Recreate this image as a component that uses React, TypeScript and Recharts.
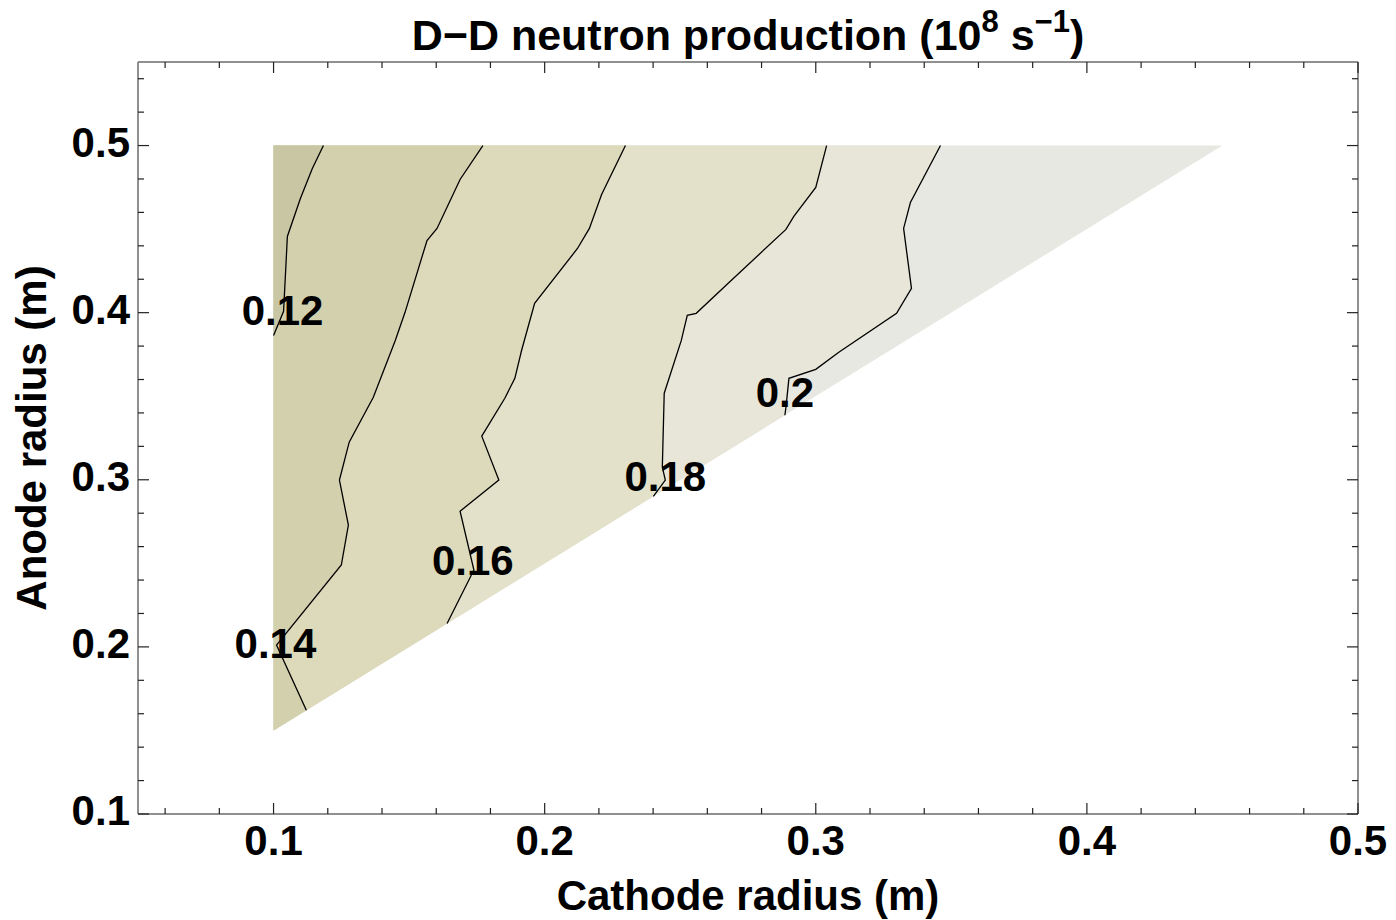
import { ComposedChart, XAxis, YAxis, Area, Line, ReferenceDot, Label } from 'recharts'

const FONT = '"Liberation Sans", Arial, Helvetica, sans-serif'
const FRAME = '#6b6b6b'
const TICK = '#222'

// cathode radius (m)
const X_DOMAIN: [number, number] = [0.05, 0.5]
const X_TICKS = [0.06, 0.08, 0.1, 0.12, 0.14, 0.16, 0.18, 0.2, 0.22, 0.24, 0.26, 0.28, 0.3, 0.32, 0.34, 0.36, 0.38, 0.4, 0.42, 0.44, 0.46, 0.48, 0.5]
const X_MAJOR = [0.1, 0.2, 0.3, 0.4, 0.5]

// anode radius (m)
const Y_DOMAIN: [number, number] = [0.1, 0.55]
const Y_TICKS = [0.1, 0.12, 0.14, 0.16, 0.18, 0.2, 0.22, 0.24, 0.26, 0.28, 0.3, 0.32, 0.34, 0.36, 0.38, 0.4, 0.42, 0.44, 0.46, 0.48, 0.5, 0.52, 0.54]
const Y_MAJOR = [0.1, 0.2, 0.3, 0.4, 0.5]

// sampled region: anode 0.15..0.5, cathode from 0.1 up to the diagonal
const REGION = [
  { y: 0.15, span: [0.1, 0.1] },
  { y: 0.5, span: [0.1, 0.45] },
]
const CORNER = { y: 0.15, span: [0.1, 0.1] }

// contour lines, from the lower end upward
const LINE_012 = [
  { x: 0.1, y: 0.3864 }, { x: 0.1037, y: 0.4008 }, { x: 0.1051, y: 0.4456 },
  { x: 0.1099, y: 0.4683 }, { x: 0.1143, y: 0.4863 }, { x: 0.1184, y: 0.5 },
]
const LINE_014 = [
  { x: 0.1121, y: 0.1621 }, { x: 0.1011, y: 0.2011 }, { x: 0.125, y: 0.249 },
  { x: 0.1276, y: 0.2729 }, { x: 0.1243, y: 0.2998 }, { x: 0.1279, y: 0.3225 },
  { x: 0.1368, y: 0.3494 }, { x: 0.1449, y: 0.3834 }, { x: 0.1485, y: 0.4002 },
  { x: 0.1566, y: 0.4432 }, { x: 0.1603, y: 0.4504 }, { x: 0.1688, y: 0.4797 },
  { x: 0.1772, y: 0.5 },
]
const LINE_016 = [
  { x: 0.164, y: 0.214 }, { x: 0.1739, y: 0.246 }, { x: 0.1688, y: 0.2812 },
  { x: 0.1831, y: 0.2998 }, { x: 0.1768, y: 0.3261 }, { x: 0.1853, y: 0.3488 },
  { x: 0.189, y: 0.3607 }, { x: 0.1915, y: 0.3775 }, { x: 0.1963, y: 0.4056 },
  { x: 0.2121, y: 0.4384 }, { x: 0.2165, y: 0.4504 }, { x: 0.221, y: 0.4707 },
  { x: 0.2298, y: 0.5 },
]
const LINE_018 = [
  { x: 0.2401, y: 0.2901 }, { x: 0.2445, y: 0.2998 }, { x: 0.2434, y: 0.3075 },
  { x: 0.2441, y: 0.3518 }, { x: 0.2504, y: 0.3834 }, { x: 0.2526, y: 0.3984 },
  { x: 0.2559, y: 0.3996 }, { x: 0.268, y: 0.4181 }, { x: 0.289, y: 0.4498 },
  { x: 0.2919, y: 0.4576 }, { x: 0.3, y: 0.4749 }, { x: 0.304, y: 0.5 },
]
const LINE_020 = [
  { x: 0.2886, y: 0.3386 }, { x: 0.289, y: 0.3434 }, { x: 0.2901, y: 0.3607 },
  { x: 0.3, y: 0.3661 }, { x: 0.3085, y: 0.3763 }, { x: 0.3298, y: 0.3996 },
  { x: 0.3353, y: 0.4145 }, { x: 0.3324, y: 0.4504 }, { x: 0.3349, y: 0.4659 },
  { x: 0.346, y: 0.5 },
]

const CONTOURS = [LINE_012, LINE_014, LINE_016, LINE_018, LINE_020]

// band shades, lowest level first; the last one fills beyond 0.2
const BAND_COLORS = ['#c9c6a3', '#d3d0ad', '#dcdaba', '#e3e1c9', '#e8e6d8', '#e8e8e2']

const CONTOUR_LABELS = [
  { x: 0.1033, y: 0.4014, text: '0.12' },
  { x: 0.1007, y: 0.2023, text: '0.14' },
  { x: 0.1735, y: 0.2519, text: '0.16' },
  { x: 0.2445, y: 0.3021, text: '0.18' },
  { x: 0.2886, y: 0.3524, text: '0.2' },
]

// area left of a contour line, closed along the left edge / diagonal
function leftOf(line: { x: number; y: number }[], fromCorner: boolean) {
  const pts = line.map((p) => ({ y: p.y, span: [0.1, p.x] }))
  return fromCorner ? [CORNER, ...pts] : pts
}

const textStyle = { fontFamily: FONT, fontWeight: 700, fontSize: 42, fill: '#000' }

function BottomTick(props: any) {
  const { x, y, payload } = props
  const major = X_MAJOR.includes(payload.value)
  return (
    <g>
      <line x1={x} x2={x} y1={y} y2={y - (major ? 11 : 6)} stroke={TICK} strokeWidth={1.2} />
      {major && (
        <text x={x} y={y + 41} textAnchor="middle" style={textStyle}>
          {String(payload.value)}
        </text>
      )}
    </g>
  )
}

function TopTick(props: any) {
  const { x, y, payload } = props
  const major = X_MAJOR.includes(payload.value)
  return <line x1={x} x2={x} y1={y} y2={y + (major ? 11 : 6)} stroke={TICK} strokeWidth={1.2} />
}

function LeftTick(props: any) {
  const { x, y, payload } = props
  const major = Y_MAJOR.includes(payload.value)
  return (
    <g>
      <line x1={x} x2={x + (major ? 11 : 6)} y1={y} y2={y} stroke={TICK} strokeWidth={1.2} />
      {major && (
        <text x={x - 8} y={y + 11} textAnchor="end" style={textStyle}>
          {String(payload.value)}
        </text>
      )}
    </g>
  )
}

function RightTick(props: any) {
  const { x, y, payload } = props
  const major = Y_MAJOR.includes(payload.value)
  return <line x1={x} x2={x - (major ? 11 : 6)} y1={y} y2={y} stroke={TICK} strokeWidth={1.2} />
}

export default function App() {
  const bands = [
    { data: REGION, color: BAND_COLORS[5] },
    { data: leftOf(LINE_020, true), color: BAND_COLORS[4] },
    { data: leftOf(LINE_018, true), color: BAND_COLORS[3] },
    { data: leftOf(LINE_016, true), color: BAND_COLORS[2] },
    { data: leftOf(LINE_014, true), color: BAND_COLORS[1] },
    { data: leftOf(LINE_012, false), color: BAND_COLORS[0] },
  ]

  return (
    <div style={{ position: 'absolute', left: 0, top: 0, width: 1396, height: 920, background: '#fff' }}>
      <ComposedChart
        width={1396}
        height={920}
        layout="vertical"
        margin={{ top: 0, right: 0, bottom: 0, left: 0 }}
      >
        <XAxis
          xAxisId="b"
          type="number"
          dataKey="x"
          orientation="bottom"
          domain={X_DOMAIN}
          ticks={X_TICKS}
          interval={0}
          allowDataOverflow
          height={106}
          tickSize={0}
          tickMargin={0}
          tickLine={false}
          axisLine={{ stroke: FRAME, strokeWidth: 1.5 }}
          tick={(p: any) => <BottomTick {...p} />}
        >
          <Label
            content={({ viewBox }: any) => (
              <text x={viewBox.x + viewBox.width / 2} y={910} textAnchor="middle" style={textStyle}>
                Cathode radius (m)
              </text>
            )}
          />
        </XAxis>
        <XAxis
          xAxisId="t"
          type="number"
          dataKey="x"
          orientation="top"
          domain={X_DOMAIN}
          ticks={X_TICKS}
          interval={0}
          allowDataOverflow
          height={62}
          tickSize={0}
          tickMargin={0}
          tickLine={false}
          axisLine={{ stroke: FRAME, strokeWidth: 1.5 }}
          tick={(p: any) => <TopTick {...p} />}
        >
          <Label
            content={({ viewBox }: any) => (
              <text x={viewBox.x + viewBox.width / 2} y={50} textAnchor="middle" style={{ ...textStyle, fontSize: 43 }}>
                D−D neutron production (10
                <tspan dy={-18} fontSize={31}>8</tspan>
                <tspan dy={18}> s</tspan>
                <tspan dy={-18} fontSize={31}>−1</tspan>
                <tspan dy={18}>)</tspan>
              </text>
            )}
          />
        </XAxis>
        <YAxis
          yAxisId="l"
          type="number"
          dataKey="y"
          orientation="left"
          reversed
          domain={Y_DOMAIN}
          ticks={Y_TICKS}
          interval={0}
          allowDataOverflow
          width={138}
          tickSize={0}
          tickMargin={0}
          tickLine={false}
          axisLine={{ stroke: FRAME, strokeWidth: 1.5 }}
          tick={(p: any) => <LeftTick {...p} />}
        >
          <Label
            content={({ viewBox }: any) => {
              const cy = viewBox.y + viewBox.height / 2
              return (
                <text x={46} y={cy} transform={`rotate(-90, 46, ${cy})`} textAnchor="middle" style={textStyle}>
                  Anode radius (m)
                </text>
              )
            }}
          />
        </YAxis>
        <YAxis
          yAxisId="r"
          type="number"
          dataKey="y"
          orientation="right"
          reversed
          domain={Y_DOMAIN}
          ticks={Y_TICKS}
          interval={0}
          allowDataOverflow
          width={38}
          tickSize={0}
          tickMargin={0}
          tickLine={false}
          axisLine={{ stroke: FRAME, strokeWidth: 1.5 }}
          tick={(p: any) => <RightTick {...p} />}
        />

        {bands.map((b, i) => (
          <Area
            key={`band-${i}`}
            xAxisId="b"
            yAxisId="l"
            data={b.data}
            dataKey="span"
            type="linear"
            stroke="none"
            fill={b.color}
            fillOpacity={1}
            dot={false}
            activeDot={false}
            isAnimationActive={false}
          />
        ))}

        {CONTOURS.map((c, i) => (
          <Line
            key={`contour-${i}`}
            xAxisId="b"
            yAxisId="l"
            data={c}
            dataKey="x"
            type="linear"
            stroke="#000"
            strokeWidth={1.3}
            dot={false}
            activeDot={false}
            isAnimationActive={false}
          />
        ))}

        {CONTOUR_LABELS.map((l) => (
          <ReferenceDot
            key={l.text}
            xAxisId="b"
            yAxisId="l"
            x={l.x}
            y={l.y}
            r={0}
            ifOverflow="visible"
            shape={(p: any) => (
              <text x={p.cx} y={p.cy + 15} textAnchor="middle" style={textStyle}>
                {l.text}
              </text>
            )}
          />
        ))}
      </ComposedChart>
    </div>
  )
}
